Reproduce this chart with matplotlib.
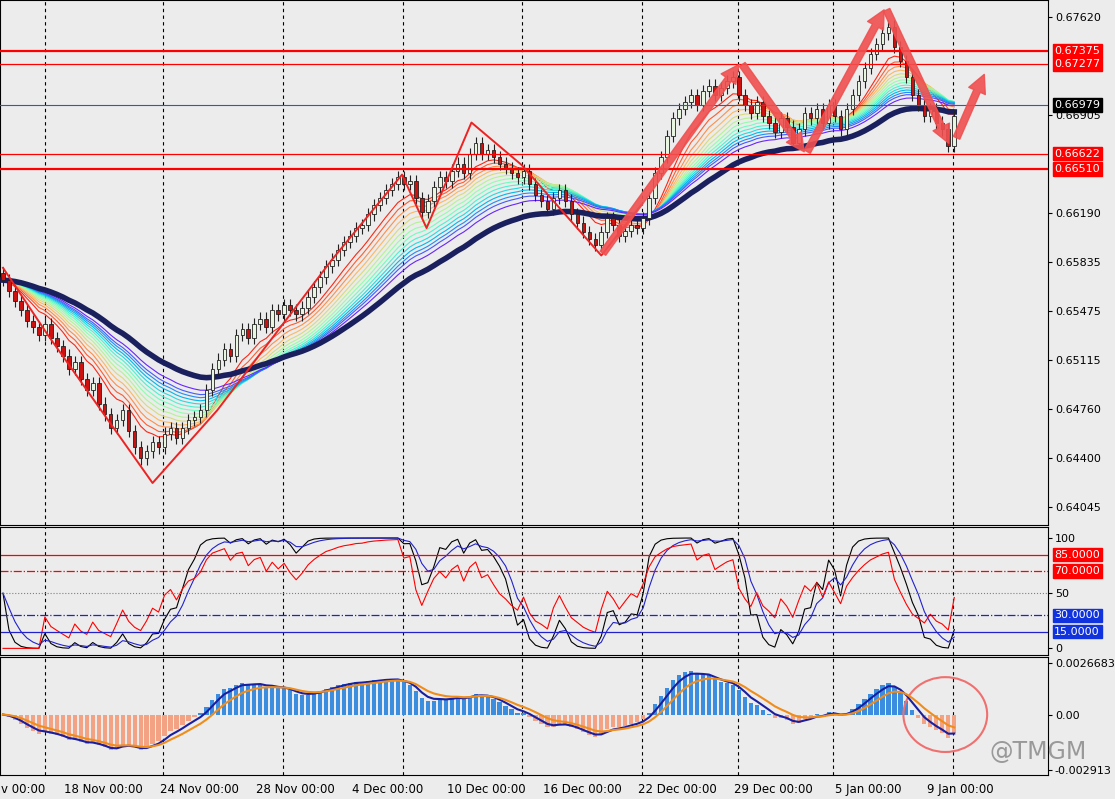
import numpy as np
import matplotlib
matplotlib.use("Agg")
import matplotlib.pyplot as plt
from matplotlib.patches import Ellipse

closes = [0.6570,0.6562,0.6555,0.6548,0.6540,0.6536,0.6530,0.6538,0.6528,0.6522,
0.6515,0.6505,0.6510,0.6498,0.6490,0.6495,0.6480,0.6472,0.6462,0.6468,
0.6475,0.6460,0.6448,0.6440,0.6445,0.6452,0.6448,0.6458,0.6462,0.6455,
0.6462,0.6468,0.6470,0.6475,0.6490,0.6505,0.6512,0.6520,0.6515,0.6530,
0.6534,0.6528,0.6538,0.6542,0.6536,0.6548,0.6545,0.6552,0.6548,0.6545,
0.6550,0.6558,0.6565,0.6572,0.6580,0.6585,0.6592,0.6598,0.6602,0.6608,
0.6610,0.6618,0.6625,0.6630,0.6636,0.6640,0.6645,0.6640,0.6642,0.6630,
0.6620,0.6628,0.6638,0.6645,0.6642,0.6650,0.6655,0.6648,0.6662,0.6670,
0.6662,0.6665,0.6660,0.6655,0.6652,0.6648,0.6645,0.6650,0.6640,0.6632,
0.6628,0.6622,0.6630,0.6636,0.6628,0.6618,0.6612,0.6605,0.6600,0.6596,
0.6605,0.6615,0.6610,0.6602,0.6606,0.6610,0.6608,0.6615,0.6630,0.6648,
0.6660,0.6675,0.6688,0.6695,0.6700,0.6705,0.6698,0.6708,0.6712,0.6705,
0.6710,0.6715,0.6718,0.6705,0.6698,0.6692,0.6700,0.6690,0.6685,0.6678,
0.6688,0.6682,0.6670,0.6680,0.6692,0.6688,0.6695,0.6685,0.6698,0.6690,
0.6680,0.6695,0.6705,0.6715,0.6725,0.6735,0.6742,0.6750,0.6755,0.6740,
0.6730,0.6718,0.6705,0.6698,0.6690,0.6695,0.6685,0.6680,0.6668,0.6690]
open0 = 0.6575

price_ticks = [0.67620,0.66905,0.66190,0.65835,0.65475,0.65115,0.64760,0.64400,0.64045]
red_levels = [0.67375,0.67277,0.66622,0.66510]
blue_level = 0.66979
date_labels = ["v 00:00","18 Nov 00:00","24 Nov 00:00","28 Nov 00:00","4 Dec 00:00","10 Dec 00:00",
               "16 Dec 00:00","22 Dec 00:00","29 Dec 00:00","5 Jan 00:00","9 Jan 00:00"]
date_pos = [3.3,16.7,32.8,48.8,64.3,80.8,96.8,112.8,128.8,144.7,160.0]
grid_pos = [7.0,26.8,46.8,66.8,86.8,106.8,122.8,138.8,158.8]
zig_x = [0,7.5,25,35.8,55,66.7,70.8,78.3,86.7,100,106.7]
zig_y = [0.6579,0.6530,0.6422,0.6475,0.6585,0.6647,0.6608,0.6685,0.6654,0.6588,0.6625]
arrows = [(100,0.6588,123.3,0.6729),(123.3,0.6729,134.2,0.6662),(134.2,0.6662,147.5,0.6769),
          (147.5,0.6769,158.3,0.6668),(159.2,0.6672,164.2,0.6722)]

c = np.array(closes); n = len(c)
o = np.concatenate([[open0], c[:-1]])
x = np.arange(n)
wick = 0.00045
hi = np.maximum(o, c) + wick
lo = np.minimum(o, c) - wick

def ema(a, p):
    k = 2/(p+1); out = np.empty_like(a); out[0] = a[0]
    for i in range(1, len(a)):
        out[i] = a[i]*k + out[i-1]*(1-k)
    return out

BG = '#ececec'
fig = plt.figure(figsize=(11.15, 7.99), dpi=100, facecolor=BG)
W = 1048/1115
ax = fig.add_axes([0, 1-525/799, W, 525/799])
ax2 = fig.add_axes([0, 1-655/799, W, 128/799])
ax3 = fig.add_axes([0, 1-775/799, W, 118/799])
for a in (ax, ax2, ax3):
    a.set_facecolor(BG)
    a.set_xlim(-0.5, 1048/6)
    for g in grid_pos:
        a.axvline(g, color='k', ls=(0,(3,3)), lw=0.8, zorder=0)
    a.yaxis.tick_right()
    a.tick_params(axis='y', labelsize=8, length=3, pad=2)
    a.set_xticks([])

pmin = 0.6762 - (525-17)/13706; pmax = 0.6762 + 17/13706
ax.set_ylim(pmin, pmax)
periods = [8,10,12,14,16,18,20,22,24,26,28,30,32,35]
cm = plt.get_cmap('rainbow_r')
for i, p in enumerate(periods):
    ax.plot(x, ema(c, p), color=cm(i/(len(periods)-1)*0.9 + 0.05), lw=0.8, zorder=2)
ax.plot(x, ema(c, 45), color='#1a1f5e', lw=4, zorder=3)
for i in range(n):
    up = c[i] >= o[i]
    ax.vlines(x[i], lo[i], hi[i], color='#222222', lw=0.8, zorder=4)
    b0, b1 = min(o[i], c[i]), max(o[i], c[i])
    ax.add_patch(plt.Rectangle((x[i]-0.3, b0), 0.6, max(b1-b0, 0.00003),
                 facecolor=('#e8f5e0' if up else '#cc1111'), edgecolor='#222222', lw=0.6, zorder=5))
for lv in red_levels:
    ax.axhline(lv, color='red', lw=1.6 if lv in (0.67375, 0.66510) else 0.9, zorder=6)
ax.axhline(blue_level, color='#3355cc', lw=0.8, zorder=6)
ax.plot(zig_x, zig_y, color='#ee2222', lw=1.4, zorder=7)
for (x0, y0, x1, y1) in arrows:
    ax.annotate('', xy=(x1, y1), xytext=(x0, y0),
                arrowprops=dict(arrowstyle='simple,head_width=1.3,head_length=1.3,tail_width=0.5',
                                color='#f05050', alpha=0.9), zorder=8)
ax.set_yticks(price_ticks)
ax.set_yticklabels([f"{v:.5f}" for v in price_ticks])
for lv in red_levels:
    ax.text(1.006, lv, f"{lv:.5f}", transform=ax.get_yaxis_transform(), fontsize=8, color='white',
            va='center', ha='left', bbox=dict(facecolor='red', edgecolor='red', pad=1.2), clip_on=False)
ax.text(1.006, blue_level, f"{blue_level:.5f}", transform=ax.get_yaxis_transform(), fontsize=8, color='white',
        va='center', ha='left', bbox=dict(facecolor='black', edgecolor='black', pad=1.2), clip_on=False)

def stoch(a, p):
    out = np.empty_like(a)
    for i in range(len(a)):
        w = a[max(0, i-p+1):i+1]
        rng = w.max()-w.min()
        out[i] = 50 if rng == 0 else (a[i]-w.min())/rng*100
    return out
def rsi(a, p):
    d = np.diff(a, prepend=a[0])
    g = ema(np.clip(d, 0, None), p); l = ema(np.clip(-d, 0, None), p)
    return 100 - 100/(1 + g/np.maximum(l, 1e-9))
k = ema(stoch(c, 14), 2)
ax2.set_ylim(-6, 110)
ax2.plot(x, k, color='black', lw=0.8)
ax2.plot(x, ema(k, 4), color='#2222cc', lw=0.8)
ax2.plot(x, rsi(c, 10), color='red', lw=0.8)
ax2.axhline(85, color='red', lw=0.9)
ax2.axhline(70, color='red', lw=0.9, ls='-.')
ax2.axhline(50, color='gray', lw=0.8, ls=':')
ax2.axhline(30, color='#2222cc', lw=0.9, ls='-.')
ax2.axhline(15, color='#2222cc', lw=0.9)
ax2.set_yticks([100, 50, 0]); ax2.set_yticklabels(['100', '50', '0'])
for lv, col in [(85, 'red'), (70, 'red'), (30, '#1133dd'), (15, '#1133dd')]:
    ax2.text(1.006, lv, f"{lv:.4f}", transform=ax2.get_yaxis_transform(), fontsize=8, color='white',
             va='center', ha='left', bbox=dict(facecolor=col, edgecolor=col, pad=1.2), clip_on=False)

macd = ema(c, 6) - ema(c, 13)
sig1 = ema(macd, 3)
sig2 = ema(macd, 7)
ax3.bar(x, macd, width=0.7, color=np.where(macd >= 0, '#3b8de0', '#f4a284'))
ax3.plot(x, sig1, color='#1a1fa0', lw=1.5)
ax3.plot(x, sig2, color='#f08c1a', lw=1.5)
ax3.set_ylim(-0.00315, 0.0030)
ax3.set_yticks([0.0026683, 0.0, -0.002913])
ax3.set_yticklabels(['0.0026683', '0.00', '-0.002913'])
ax3.add_patch(Ellipse((157.5, 0.0), 14, 0.0039, fill=False, edgecolor='#f07070', lw=1.5))
ax3.set_xticks(date_pos)
ax3.set_xticklabels(date_labels, fontsize=8.5)
ax3.tick_params(axis='x', length=0, pad=6)
fig.text(0.975, 1-752/799, '@TMGM', fontsize=17, color='#999999', ha='right', va='center')
fig.savefig('out.png', dpi=100, facecolor=BG)
